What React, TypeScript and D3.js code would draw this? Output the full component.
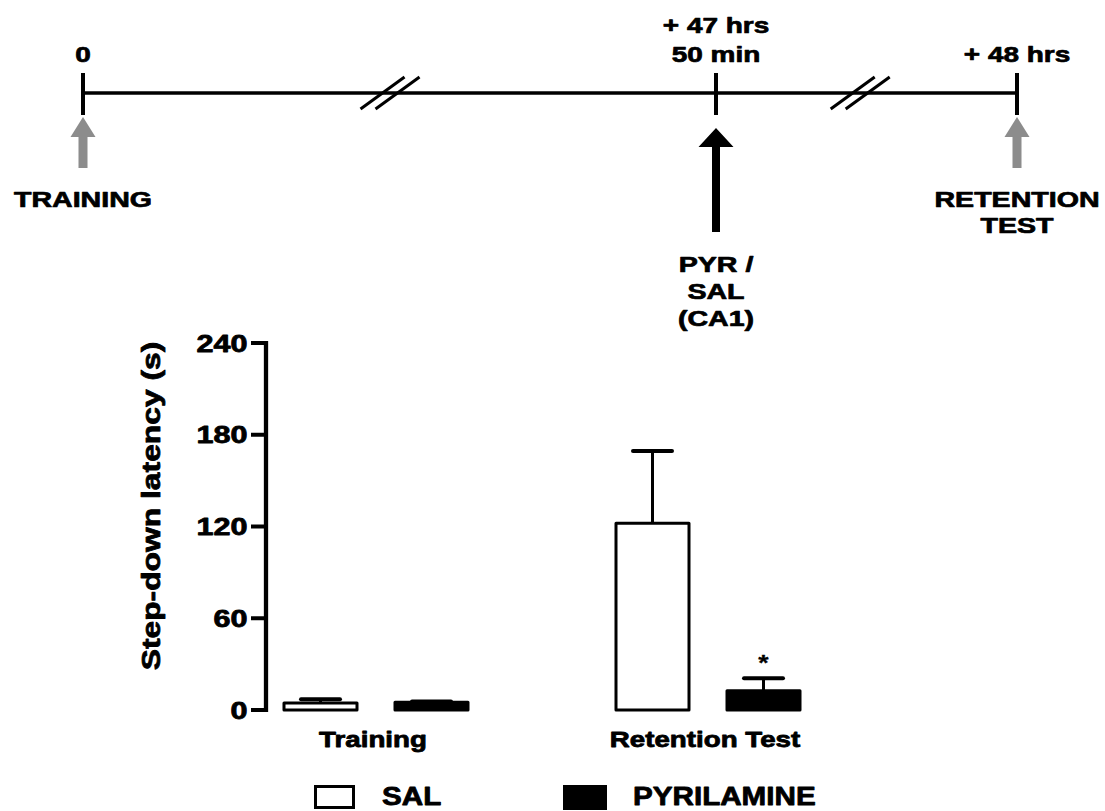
import React from "react";
import * as d3 from "d3";

// ---------- DATA ----------
const timelineHours = [0, 47.833, 48];
const timelineTopLabels = [["0"], ["+ 47 hrs", "50 min"], ["+ 48 hrs"]];
const timelineBottomLabels = [["TRAINING"], ["PYR /", "SAL", "(CA1)"], ["RETENTION", "TEST"]];
const arrowKinds = ["gray", "black", "gray"];
const breakHours = [23.2, 47.913];

const categories = ["Training", "Retention Test"];
const series = ["SAL", "PYRILAMINE"];
const salMeans = [4.5, 122.2];
const salErrors = [2.5, 47.2];
const pyrMeans = [5.0, 12.6];
const pyrErrors = [0.5, 8.1];
const yTicks = [0, 60, 120, 180, 240];
const yLabel = "Step-down latency (s)";
const significance = ["", "*"];

const FONT = "'Liberation Sans', Arial, Helvetica, sans-serif";

function SText({ x, y, children, size, sx = 1.35, anchor = "middle", rotate = 0, sw = 0.7 }: any) {
  return (
    <text
      transform={`translate(${x},${y}) rotate(${rotate}) scale(${sx},1)`}
      textAnchor={anchor}
      fontFamily={FONT}
      fontWeight="bold"
      fontSize={size}
      fill="#000"
      stroke="#000"
      strokeWidth={sw}
      strokeLinejoin="round"
    >
      {children}
    </text>
  );
}

export default function App() {
  const W = 1105;
  const H = 811;

  // timeline scale (piecewise, broken axis)
  const tx = d3.scaleLinear().domain(timelineHours).range([83, 716, 1017]);
  const lineY = 93;

  // bar chart scales
  const y = d3.scaleLinear().domain([0, 240]).range([710, 343]);
  const x0 = d3.scalePoint<string>().domain(categories).range([376, 708]);
  const x1 = d3.scalePoint<string>().domain(series).range([-55.5, 55.5]);
  const barW = 73;
  const axisX = 266;

  const groups = categories.map((c, i) => ({
    cat: c,
    bars: [
      { s: series[0], m: salMeans[i], e: salErrors[i], fill: "#fff" },
      { s: series[1], m: pyrMeans[i], e: pyrErrors[i], fill: "#000" },
    ],
    sig: significance[i],
  }));

  const arrowPath = (cx: number, kind: string) => {
    if (kind === "gray") {
      const tip = 117, base = 137, hw = 12.5, sw = 4.5, bot = 168;
      return `M${cx},${tip} L${cx + hw},${base} L${cx + sw},${base} L${cx + sw},${bot} L${cx - sw},${bot} L${cx - sw},${base} L${cx - hw},${base} Z`;
    }
    const tip = 128, base = 147, hw = 17.5, sw = 4, bot = 232;
    return `M${cx},${tip} L${cx + hw},${base} L${cx + sw},${base} L${cx + sw},${bot} L${cx - sw},${bot} L${cx - sw},${base} L${cx - hw},${base} Z`;
  };

  const bottomBaselines = [[206.7], [272, 299, 326], [206.7, 233.3]];

  return (
    <svg
      width={W}
      height={H}
      viewBox={`0 0 ${W} ${H}`}
      style={{ position: "absolute", left: 0, top: 0, background: "#fff" }}
    >
      <rect x={0} y={0} width={W} height={H} fill="#fff" />
      {/* ---------- Timeline ---------- */}
      <line x1={tx(timelineHours[0])} x2={tx(timelineHours[2])} y1={lineY} y2={lineY} stroke="#000" strokeWidth={3.5} />
      {timelineHours.map((h, i) => (
        <line key={"tk" + i} x1={tx(h)} x2={tx(h)} y1={73} y2={115} stroke="#000" strokeWidth={4} />
      ))}
      {breakHours.map((h, i) => {
        const c = tx(h);
        return (
          <g key={"br" + i} stroke="#000" strokeWidth={3}>
            {[-7.5, 7.5].map((o) => (
              <line key={o} x1={c + o - 22} y1={lineY + 16} x2={c + o + 22} y2={lineY - 16} />
            ))}
          </g>
        );
      })}
      {timelineHours.map((h, i) => {
        const lines = timelineTopLabels[i];
        const n = lines.length;
        return lines.map((t, j) => (
          <SText key={"tl" + i + j} x={tx(h)} y={62 - (n - 1 - j) * 29} size={21.5} sx={1.3}>
            {t}
          </SText>
        ));
      })}
      {timelineHours.map((h, i) => (
        <path key={"ar" + i} d={arrowPath(tx(h), arrowKinds[i])} fill={arrowKinds[i] === "gray" ? "#8c8c8c" : "#000"} />
      ))}
      {timelineHours.map((h, i) =>
        timelineBottomLabels[i].map((t, j) => (
          <SText key={"bl" + i + j} x={tx(h)} y={bottomBaselines[i][j]} size={21.5} sx={1.33}>
            {t}
          </SText>
        ))
      )}

      {/* ---------- Bar chart ---------- */}
      <line x1={axisX} x2={axisX} y1={y(240) - 2} y2={y(0) + 2} stroke="#000" strokeWidth={4.3} />
      {yTicks.map((t) => (
        <g key={"yt" + t}>
          <line x1={251} x2={axisX} y1={y(t)} y2={y(t)} stroke="#000" strokeWidth={4} />
          <SText x={247.5} y={y(t) + 8.5} size={23.5} sx={1.3} anchor="end" sw={0.8}>
            {String(t)}
          </SText>
        </g>
      ))}
      <SText x={160} y={506} size={26.5} sx={1.2} rotate={-90} sw={0.8}>
        {yLabel}
      </SText>

      {groups.map((g) => {
        const gx = x0(g.cat)!;
        return (
          <g key={g.cat}>
            {g.bars.map((b) => {
              const cx = gx + x1(b.s)!;
              const top = y(b.m);
              const etop = y(b.m + b.e);
              return (
                <g key={b.s}>
                  <line x1={cx} x2={cx} y1={top} y2={etop} stroke="#000" strokeWidth={3} />
                  <line x1={cx - 19.5} x2={cx + 19.5} y1={etop} y2={etop} stroke="#000" strokeWidth={4} strokeLinecap="round" />
                  <rect
                    x={cx - barW / 2}
                    y={top}
                    width={barW}
                    height={y(0) - top}
                    fill={b.fill}
                    stroke="#000"
                    strokeWidth={3}
                    strokeLinejoin="round"
                  />
                </g>
              );
            })}
            {g.sig && (
              <SText x={gx + x1(series[1])!} y={670} size={22} sx={1.2} sw={0.3}>
                {g.sig}
              </SText>
            )}
            <SText x={gx - 3} y={747} size={22} sx={1.26} sw={0.8}>
              {g.cat}
            </SText>
          </g>
        );
      })}

      {/* ---------- Legend ---------- */}
      <rect x={315.5} y={786.5} width={38} height={21} fill="#fff" stroke="#000" strokeWidth={3} />
      <SText x={382} y={805} size={26} sx={1.14} anchor="start" sw={0.8}>
        {series[0]}
      </SText>
      <rect x={563} y={785} width={44} height={25} fill="#000" />
      <SText x={633} y={805} size={26} sx={1.14} anchor="start" sw={0.8}>
        {series[1]}
      </SText>
    </svg>
  );
}
